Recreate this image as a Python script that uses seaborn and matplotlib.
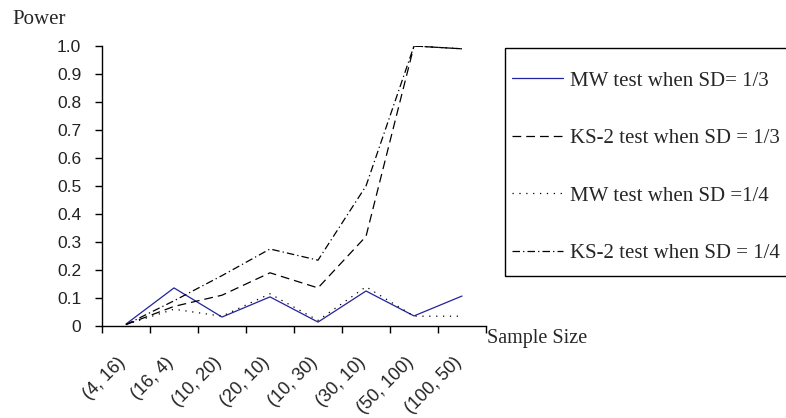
import matplotlib
matplotlib.use("Agg")
import matplotlib.pyplot as plt
import matplotlib.transforms as mtransforms
from matplotlib.patches import Rectangle
import seaborn as sns
import pandas as pd
from matplotlib.ticker import FixedLocator

sample_sizes = ["(4, 16)", "(16, 4)", "(10, 20)", "(20, 10)", "(10, 30)", "(30, 10)", "(50, 100)", "(100, 50)"]
mw_sd13 = [0.007, 0.136, 0.032, 0.104, 0.014, 0.125, 0.036, 0.107]
ks_sd13 = [0.005, 0.07, 0.11, 0.19, 0.136, 0.32, 1.0, 0.99]
mw_sd14 = [0.005, 0.06, 0.035, 0.115, 0.02, 0.14, 0.035, 0.035]
ks_sd14 = [0.005, 0.09, 0.18, 0.275, 0.235, 0.50, 1.0, 0.99]
series_names = ["MW test when SD= 1/3", "KS-2 test when SD = 1/3", "MW test when SD =1/4", "KS-2 test when SD = 1/4"]
y_ticks = [0, 0.1, 0.2, 0.3, 0.4, 0.5, 0.6, 0.7, 0.8, 0.9, 1.0]
y_labels = ["0", "0.1", "0.2", "0.3", "0.4", "0.5", "0.6", "0.7", "0.8", "0.9", "1.0"]

sns.set_style("white")
plt.rcParams["font.family"] = ["Liberation Sans", "DejaVu Sans"]

W, H = 786, 418
fig = plt.figure(figsize=(W / 100, H / 100), dpi=100)
ax = fig.add_axes([102 / W, 1 - 326 / H, (486 - 102) / W, (326 - 46) / H])

styles = [
    dict(color="#22229c", linestyle="-"),
    dict(color="black", linestyle=(0, (7, 4))),
    dict(color="black", linestyle=(0, (1, 4.5))),
    dict(color="black", linestyle=(0, (6, 2.5, 1, 2.5))),
]
data = [mw_sd13, ks_sd13, mw_sd14, ks_sd14]
for name, vals, st in zip(series_names, data, styles):
    df = pd.DataFrame({"x": sample_sizes, "y": vals})
    sns.lineplot(data=df, x="x", y="y", ax=ax, label=name, linewidth=0.9, sort=False, **st)

ax.set_xlim(-0.5, len(sample_sizes) - 0.5)
ax.set_ylim(0, 1.0)
ax.set_yticks(y_ticks)
ax.set_yticklabels(y_labels, fontsize=12.5, color="#222222")
ax.set_xticks(range(len(sample_sizes)))
ax.set_xticklabels(sample_sizes, rotation=45, ha="right", rotation_mode="anchor", fontsize=13, color="#222222")
ax.xaxis.set_minor_locator(FixedLocator([i - 0.5 for i in range(len(sample_sizes) + 1)]))
ax.tick_params(axis="x", which="major", length=0, pad=20)
ax.tick_params(axis="x", which="minor", length=5, width=1, direction="out", color="black", bottom=True)
ax.tick_params(axis="y", which="major", length=5, width=1, direction="out", color="black", left=True, pad=10)
offset = mtransforms.ScaledTranslation(-9 / 100, 0, fig.dpi_scale_trans)
for lbl in ax.get_xticklabels():
    lbl.set_transform(lbl.get_transform() + offset)
ax.spines["top"].set_visible(False)
ax.spines["right"].set_visible(False)
for s in ("left", "bottom"):
    ax.spines[s].set_color("black")
    ax.spines[s].set_linewidth(1)
ax.set_xlabel("")
ax.set_ylabel("")

ax.legend_.remove()
handles, labels = ax.get_legend_handles_labels()
fs = 15
fig.patches.append(Rectangle((505 / W, 1 - 276 / H), 300 / W, (276 - 48) / H,
                             transform=fig.transFigure, fill=False, edgecolor="black", linewidth=1))
leg = fig.legend(handles, labels, loc="upper left", bbox_to_anchor=(512 / W, 1 - 71 / H),
                 frameon=False, prop={"family": "Liberation Serif", "size": fs},
                 handlelength=2.45, handletextpad=0.33, labelspacing=1.82, borderpad=0,
                 borderaxespad=0)

fig.text(12 / W, 1 - 20 / H, "Power", family="Liberation Serif", fontsize=15, va="center", ha="left")
fig.text(487 / W, 1 - 338 / H, "Sample Size", family="Liberation Serif", fontsize=14.5, va="center", ha="left")

fig.savefig("out.png", dpi=100)
